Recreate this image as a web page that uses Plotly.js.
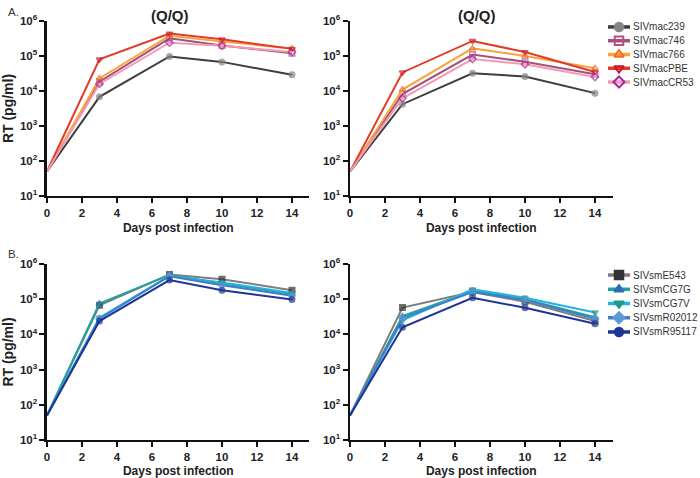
<!DOCTYPE html>
<html>
<head>
<meta charset="utf-8">
<script src="https://cdn.plot.ly/plotly-3.0.1.min.js"></script>
<style>html,body{margin:0;padding:0;background:#fff;}#chart{width:700px;height:478px;}</style>
</head>
<body>
<div id="chart"></div>
<script>
// ---------- data ----------
const days = [0, 3, 7, 10, 14];
const xTicks = [0, 2, 4, 6, 8, 10, 12, 14];
const yTickVals = [10, 100, 1000, 10000, 100000, 1000000];
const yTickText = ['10<sup>1</sup>', '10<sup>2</sup>', '10<sup>3</sup>', '10<sup>4</sup>', '10<sup>5</sup>', '10<sup>6</sup>'];

const namesA = ['SIVmac239', 'SIVmac746', 'SIVmac766', 'SIVmacPBE', 'SIVmacCR53'];
const namesB = ['SIVsmE543', 'SIVsmCG7G', 'SIVsmCG7V', 'SIVsmR02012', 'SIVsmR95117'];

// Panel A, left
const mac239_L = [50, 6800, 97000, 68000, 29000];
const mac746_L = [50, 18500, 320000, 200000, 120000];
const mac766_L = [50, 23000, 380000, 260000, 165000];
const macPBE_L = [50, 80000, 440000, 300000, 160000];
const macCR53_L = [50, 16000, 240000, 195000, 130000];
// Panel A, right
const mac239_R = [50, 4200, 32000, 26000, 8700];
const mac746_R = [50, 8200, 110000, 69000, 30000];
const mac766_R = [50, 11000, 165000, 100000, 45000];
const macPBE_R = [50, 34000, 270000, 130000, 35000];
const macCR53_R = [50, 6200, 82000, 58000, 25000];
// Panel B, left
const E543_L = [50, 67000, 500000, 370000, 180000];
const CG7G_L = [50, 75000, 490000, 280000, 140000];
const CG7V_L = [50, 30000, 460000, 300000, 150000];
const R02012_L = [50, 28000, 450000, 250000, 125000];
const R95117_L = [50, 24000, 350000, 180000, 98000];
// Panel B, right
const E543_R = [50, 58000, 160000, 85000, 24000];
const CG7G_R = [50, 33000, 170000, 100000, 31000];
const CG7V_R = [50, 25000, 190000, 110000, 42000];
const R02012_R = [50, 29000, 160000, 95000, 28000];
const R95117_R = [50, 16000, 110000, 57000, 20000];

const valuesA_L = [mac239_L, mac746_L, mac766_L, macPBE_L, macCR53_L];
const valuesA_R = [mac239_R, mac746_R, mac766_R, macPBE_R, macCR53_R];
const valuesB_L = [E543_L, CG7G_L, CG7V_L, R02012_L, R95117_L];
const valuesB_R = [E543_R, CG7G_R, CG7V_R, R02012_R, R95117_R];

// ---------- styles ----------
const stylesA = [
  {line: '#3d3d3d', mcol: '#858585', sym: 'circle'},
  {line: '#a3507c', mcol: '#b4507f', sym: 'square-open'},
  {line: '#f6a638', mcol: '#f06a2c', sym: 'triangle-up-open'},
  {line: '#e23a2b', mcol: '#c4192f', sym: 'triangle-down-open'},
  {line: '#f39ab6', mcol: '#a4289c', sym: 'diamond-open'}
];
const stylesB = [
  {line: '#7d7d7d', mcol: '#333333', sym: 'square'},
  {line: '#1fa39c', mcol: '#2a6fb8', sym: 'triangle-up'},
  {line: '#25b2e2', mcol: '#1e9a87', sym: 'triangle-down'},
  {line: '#3f7fc6', mcol: '#5a9ad6', sym: 'diamond'},
  {line: '#1f3596', mcol: '#1f3596', sym: 'circle'}
];

const FONT = 'Liberation Sans, Arial, sans-serif';
const traces = [];
// markers are hidden at the origin point (as in the original figure)
const markerSizes = days.map(d => (d === 0 ? 0 : 5.5));

function addPanel(names, values, styles, xa, ya) {
  names.forEach((n, i) => {
    const s = styles[i];
    traces.push({
      x: days, y: values[i], name: n, xaxis: xa, yaxis: ya, type: 'scatter',
      mode: 'lines+markers', showlegend: false,
      line: {color: s.line, width: 2},
      marker: {symbol: s.sym, size: markerSizes, color: s.mcol, line: {color: s.mcol, width: 1.5}}
    });
  });
}
addPanel(namesA, valuesA_L, stylesA, 'x', 'y');
addPanel(namesA, valuesA_R, stylesA, 'x2', 'y2');
addPanel(namesB, valuesB_L, stylesB, 'x3', 'y3');
addPanel(namesB, valuesB_R, stylesB, 'x4', 'y4');

// legend samples drawn on small helper axes
function addLegend(names, styles, xa, ya) {
  names.forEach((n, i) => {
    const s = styles[i];
    traces.push({
      x: [0, 1], y: [n, n], xaxis: xa, yaxis: ya, type: 'scatter', mode: 'lines',
      showlegend: false, hoverinfo: 'skip', line: {color: s.line, width: 3.5}
    });
    traces.push({
      x: [0.5], y: [n], xaxis: xa, yaxis: ya, type: 'scatter', mode: 'markers',
      showlegend: false, hoverinfo: 'skip', cliponaxis: false,
      marker: {symbol: s.sym, size: 8.5, color: s.mcol, line: {color: s.mcol, width: 2}}
    });
  });
}
addLegend(namesA, stylesA, 'x5', 'y5');
addLegend(namesB, stylesB, 'x6', 'y6');

function xAxis(domain, anchor) {
  return {
    domain: domain, anchor: anchor, range: [0, 15], tickvals: xTicks,
    ticks: 'outside', ticklen: 5, tickwidth: 2, tickcolor: '#111',
    showline: true, linewidth: 2.5, linecolor: '#111', showgrid: false, zeroline: false,
    tickfont: {family: FONT, size: 11.5, weight: 'bold', color: '#222'},
    title: {text: 'Days post infection', font: {family: FONT, size: 12, weight: 'bold', color: '#222'}, standoff: 6},
    automargin: false, fixedrange: true
  };
}
function yAxis(domain, anchor, withTitle) {
  return {
    domain: domain, anchor: anchor, type: 'log', range: [1, 6],
    tickvals: yTickVals, ticktext: yTickText,
    ticks: 'outside', ticklen: 5, tickwidth: 2, tickcolor: '#111',
    showline: true, linewidth: 2.5, linecolor: '#111', showgrid: false, zeroline: false,
    tickfont: {family: FONT, size: 11.5, weight: 'bold', color: '#222'},
    title: withTitle ? {text: 'RT (pg/ml)', font: {family: FONT, size: 14, weight: 'bold', color: '#222'}, standoff: 6} : {text: ''},
    automargin: false, fixedrange: true
  };
}
function legX(anchor) {
  return {domain: [0.8686, 0.9], anchor: anchor, range: [0, 1], visible: false, fixedrange: true};
}
function legY(domain, anchor, names) {
  return {
    domain: domain, anchor: anchor, type: 'category', categoryarray: names, categoryorder: 'array',
    range: [names.length - 0.5, -0.5], side: 'right', showline: false, showgrid: false, zeroline: false,
    ticks: '', ticklabelstandoff: 2, ticklabeloverflow: 'allow',
    tickfont: {family: FONT, size: 10, color: '#333'}, automargin: false, fixedrange: true
  };
}

const layout = {
  width: 700, height: 478,
  margin: {l: 0, r: 0, t: 0, b: 0},
  paper_bgcolor: '#ffffff', plot_bgcolor: 'rgba(0,0,0,0)',
  showlegend: false,
  font: {family: FONT, color: '#222'},
  xaxis: xAxis([0.0671, 0.4421], 'y'),
  yaxis: yAxis([0.590, 0.956], 'x', true),
  xaxis2: xAxis([0.5, 0.875], 'y2'),
  yaxis2: yAxis([0.590, 0.956], 'x2', false),
  xaxis3: xAxis([0.0671, 0.4421], 'y3'),
  yaxis3: yAxis([0.0795, 0.4477], 'x3', true),
  xaxis4: xAxis([0.5, 0.875], 'y4'),
  yaxis4: yAxis([0.0795, 0.4477], 'x4', false),
  xaxis5: legX('y5'),
  yaxis5: legY([0.814, 0.958], 'x5', namesA),
  xaxis6: legX('y6'),
  yaxis6: legY([0.2906, 0.4395], 'x6', namesB),
  annotations: [
    {text: '(Q/Q)', xref: 'paper', yref: 'paper', x: 0.243, y: 0.967, xanchor: 'center', yanchor: 'middle', showarrow: false,
     font: {family: FONT, size: 15, weight: 'bold', color: '#222'}},
    {text: '(Q/Q)', xref: 'paper', yref: 'paper', x: 0.681, y: 0.967, xanchor: 'center', yanchor: 'middle', showarrow: false,
     font: {family: FONT, size: 15, weight: 'bold', color: '#222'}},
    {text: 'A.', xref: 'paper', yref: 'paper', x: 0.008, y: 0.975, xanchor: 'left', yanchor: 'middle', showarrow: false,
     font: {family: FONT, size: 11.5, color: '#333'}},
    {text: 'B.', xref: 'paper', yref: 'paper', x: 0.008, y: 0.469, xanchor: 'left', yanchor: 'middle', showarrow: false,
     font: {family: FONT, size: 11.5, color: '#333'}}
  ]
};

Plotly.newPlot('chart', traces, layout, {displayModeBar: false, staticPlot: true});
</script>
</body>
</html>
